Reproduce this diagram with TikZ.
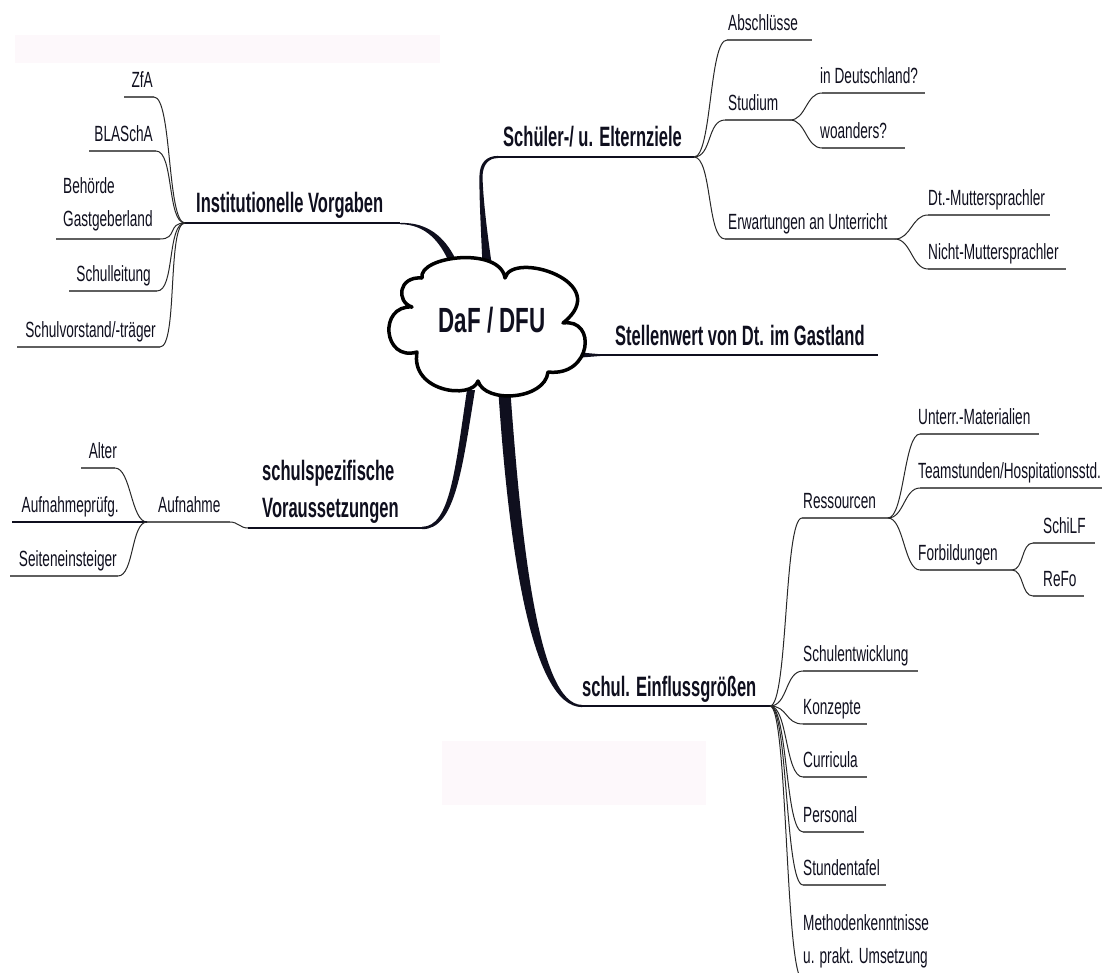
\documentclass[tikz,border=0pt]{standalone}
\usepackage{fontspec}
\setmainfont{Liberation Sans}[FakeStretch=0.62]
\newfontfamily\bigfont{Liberation Sans}[FakeStretch=0.59]
\newfontfamily\cloudfont{Liberation Sans}[FakeStretch=0.64]
\definecolor{ink}{RGB}{15,15,30}
\definecolor{ulc}{RGB}{95,95,95}
\definecolor{cvc}{RGB}{40,40,40}
\definecolor{faint}{RGB}{253,248,251}
\begin{document}
\begin{tikzpicture}[x=1pt,y=-1pt,
  txt/.style={font=\fontsize{22}{26}\selectfont, inner sep=0pt, text=ink},
  bigtxt/.style={font=\bigfont\bfseries\fontsize{28}{33}\selectfont, inner sep=0pt, text=ink},
  cloudtxt/.style={font=\cloudfont\bfseries\fontsize{35}{40}\selectfont, inner sep=0pt, text=ink},
  uline/.style={draw=ulc, line width=1.6pt},
  twig/.style={draw=cvc, line width=1pt},
  mline/.style={draw=ink, line width=2.2pt},
  rc/.style={out=0,in=180,distance=#1},
  lc/.style={out=180,in=0,distance=#1},
]
\useasboundingbox (0,0) rectangle (1102,972);
\clip (0,0) rectangle (1102,972);
\fill[white] (0,0) rectangle (1102,972);
\fill[faint] (15,35) rectangle (440,63);
\fill[faint] (442,741) rectangle (706,805);

% ---------- hubs and main coordinates
\coordinate (h1) at (185,223);
\coordinate (iE) at (400,223);
\coordinate (sC) at (497,157);
\coordinate (h2) at (694,157);
\coordinate (stA) at (582,355);
\coordinate (stB) at (878,355);
\coordinate (h4) at (248,528);
\coordinate (ssE) at (422,528);
\coordinate (eA) at (580,706);
\coordinate (h5) at (770,706);

% ---------- tapered trunks
\fill[ink] (iE) .. controls (428,221.8) and (445,238) .. (455,258) -- (449,262) .. controls (440,242) and (426,224.3) .. (400,224.2) -- cycle;
\fill[ink] (482.5,266) .. controls (481,230) and (479,195) .. (479.5,175) .. controls (480,163) and (486,156) .. (498,155.9) -- (498,158.1) .. controls (489,158) and (483,164) .. (482.5,176) .. controls (483,198) and (487,232) .. (492,266) -- cycle;
\fill[ink] (498,386) .. controls (508,540) and (530,707.1) .. (582,707.1) -- (582,704.9) .. controls (538,704.9) and (521,540) .. (510,386) -- cycle;
\fill[ink] (422,529.2) .. controls (455,529.5) and (462,470) .. (475,390) -- (467,390) .. controls (455,470) and (450,526.8) .. (422,526.8) -- cycle;
\fill[ink] (575,352) -- (600,354.2) -- (600,356) -- (575,358) -- cycle;

% ---------- main underlines
\draw[mline] (h1) -- (iE);
\draw[mline] (sC) -- (h2);
\draw[mline] (stA) -- (stB);
\draw[mline] (h4) -- (ssE);
\draw[mline] (eA) -- (h5);

% ---------- cloud
\filldraw[fill=white, draw=black, line width=3.5pt, line join=round]
  (422,278) .. controls (418,256) and (500,246) .. (505,278)
  .. controls (512,250) and (615,282) .. (563,323)
  .. controls (597,318) and (592,377) .. (548,372)
  .. controls (545,400) and (485,404) .. (478,381)
  .. controls (472,400) and (410,392) .. (417,352)
  .. controls (383,362) and (378,305) .. (412,307)
  .. controls (396,302) and (398,276) .. (422,278) -- cycle;
\node[cloudtxt] (daf) at (492,320) {DaF / DFU};

% ---------- main labels
\node[bigtxt, anchor=base west] (inst) at (196,212) {Institutionelle Vorgaben};
\node[bigtxt, anchor=base west] (schuel) at (503,146) {Schüler-/ u. Elternziele};
\node[bigtxt, anchor=base west] (stell) at (615,345) {Stellenwert von Dt. im Gastland};
\node[bigtxt, anchor=base west] (spezA) at (262,480) {schulspezifische};
\node[bigtxt, anchor=base west] (spezB) at (262,517) {Voraussetzungen};
\node[bigtxt, anchor=base west] (einfl) at (582,696) {schul. Einflussgrößen};

% ---------- Institutionelle Vorgaben
\coordinate (zfaR) at (154,97);  \coordinate (zfaL) at (124,97);
\coordinate (blaR) at (156,151); \coordinate (blaL) at (89,151);
\coordinate (behR) at (160,239); \coordinate (behL) at (56,239);
\coordinate (slR) at (157,291);  \coordinate (slL) at (69,291);
\coordinate (svR) at (160,347);  \coordinate (svL) at (17,347);
\foreach \b in {zfa,bla,beh,sl,sv}{
  \draw[twig] (h1) to[lc=18pt] (\b R);
  \draw[uline] (\b R) -- (\b L);
}
\node[txt, anchor=base east] (zfa) at (153,87) {ZfA};
\node[txt, anchor=base east] (bla) at (153,141) {BLASchA};
\node[txt, anchor=base west] (behA) at (63,193) {Behörde};
\node[txt, anchor=base west] (behB) at (63,226) {Gastgeberland};
\node[txt, anchor=base east] (sl) at (151,281) {Schulleitung};
\node[txt, anchor=base east] (sv) at (156,337) {Schulvorstand/-träger};

% ---------- Schüler-/ u. Elternziele
\coordinate (abL) at (727,40);  \coordinate (abR) at (812,40);
\coordinate (stuL) at (725,120); \coordinate (sh) at (790,120);
\coordinate (erwL) at (725,239); \coordinate (eh) at (895,239);
\coordinate (deL) at (822,93);  \coordinate (deR) at (925,93);
\coordinate (woL) at (822,148); \coordinate (woR) at (905,148);
\coordinate (dtL) at (928,215); \coordinate (dtR) at (1050,215);
\coordinate (niL) at (928,269); \coordinate (niR) at (1066,269);
\draw[twig] (h2) to[rc=18pt] (abL);  \draw[uline] (abL) -- (abR);
\draw[twig] (h2) to[rc=18pt] (stuL); \draw[uline] (stuL) -- (sh);
\draw[twig] (h2) to[rc=18pt] (erwL); \draw[uline] (erwL) -- (eh);
\draw[twig] (sh) to[rc=16pt] (deL);  \draw[uline] (deL) -- (deR);
\draw[twig] (sh) to[rc=16pt] (woL);  \draw[uline] (woL) -- (woR);
\draw[twig] (eh) to[rc=16pt] (dtL);  \draw[uline] (dtL) -- (dtR);
\draw[twig] (eh) to[rc=16pt] (niL);  \draw[uline] (niL) -- (niR);
\node[txt, anchor=base west] (absch) at (728,30) {Abschlüsse};
\node[txt, anchor=base west] (stud) at (728,110) {Studium};
\node[txt, anchor=base west] (erw) at (728,229) {Erwartungen an Unterricht};
\node[txt, anchor=base west] (inde) at (820,83) {in Deutschland?};
\node[txt, anchor=base west] (woan) at (820,138) {woanders?};
\node[txt, anchor=base west] (dtm) at (928,205) {Dt.-Muttersprachler};
\node[txt, anchor=base west] (nim) at (928,259) {Nicht-Muttersprachler};

% ---------- schulspezifische Voraussetzungen
\coordinate (aR) at (230,522); \coordinate (ah) at (147,522);
\coordinate (alR) at (115,468); \coordinate (alL) at (81,468);
\coordinate (apL) at (12,522);
\coordinate (seR) at (118,576); \coordinate (seL) at (10,576);
\draw[twig] (h4) to[lc=8pt] (aR);
\draw[uline] (aR) -- (ah);
\draw[twig] (ah) to[lc=16pt] (alR); \draw[uline] (alR) -- (alL);
\draw[draw=ink, line width=1.8pt] (ah) -- (apL);
\draw[twig] (ah) to[lc=16pt] (seR); \draw[uline] (seR) -- (seL);
\node[txt, anchor=base west] (aufn) at (158,512) {Aufnahme};
\node[txt, anchor=base east] (alter) at (117,458) {Alter};
\node[txt, anchor=base east] (aufp) at (119,512) {Aufnahmeprüfg.};
\node[txt, anchor=base east] (seit) at (117,566) {Seiteneinsteiger};

% ---------- schul. Einflussgrößen
\coordinate (reL) at (802,518); \coordinate (rh) at (888,518);
\coordinate (umL) at (920,434); \coordinate (umR) at (1039,434);
\coordinate (teL) at (920,488); \coordinate (teR) at (1110,488);
\coordinate (foL) at (920,570); \coordinate (fh) at (1012,570);
\coordinate (scL) at (1033,543); \coordinate (scR) at (1095,543);
\coordinate (rfL) at (1033,596); \coordinate (rfR) at (1084,596);
\coordinate (swL) at (803,671); \coordinate (swR) at (918,671);
\coordinate (koL) at (803,724); \coordinate (koR) at (867,724);
\coordinate (cuL) at (803,777); \coordinate (cuR) at (867,777);
\coordinate (peL) at (803,832); \coordinate (peR) at (864,832);
\coordinate (sfL) at (803,885); \coordinate (sfR) at (886,885);
\coordinate (meL) at (803,980); \coordinate (meR) at (900,980);
\draw[twig] (h5) to[rc=18pt] (reL); \draw[uline] (reL) -- (rh);
\draw[twig] (rh) to[rc=16pt] (umL); \draw[uline] (umL) -- (umR);
\draw[twig] (rh) to[rc=16pt] (teL); \draw[uline] (teL) -- (teR);
\draw[twig] (rh) to[rc=16pt] (foL); \draw[uline] (foL) -- (fh);
\draw[twig] (fh) to[rc=12pt] (scL); \draw[uline] (scL) -- (scR);
\draw[twig] (fh) to[rc=12pt] (rfL); \draw[uline] (rfL) -- (rfR);
\foreach \b in {sw,ko,cu,pe,sf,me}{
  \draw[twig] (h5) to[rc=18pt] (\b L);
  \draw[uline] (\b L) -- (\b R);
}
\node[txt, anchor=base west] (ress) at (803,508) {Ressourcen};
\node[txt, anchor=base west] (unt) at (918,424) {Unterr.-Materialien};
\node[txt, anchor=base west] (team) at (918,478) {Teamstunden/Hospitationsstd.};
\node[txt, anchor=base west] (forb) at (918,560) {Forbildungen};
\node[txt, anchor=base west] (schilf) at (1043,533) {SchiLF};
\node[txt, anchor=base west] (refo) at (1043,586) {ReFo};
\node[txt, anchor=base west] (sent) at (803,661) {Schulentwicklung};
\node[txt, anchor=base west] (konz) at (803,714) {Konzepte};
\node[txt, anchor=base west] (curr) at (803,767) {Curricula};
\node[txt, anchor=base west] (pers) at (803,822) {Personal};
\node[txt, anchor=base west] (stdt) at (803,875) {Stundentafel};
\node[txt, anchor=base west] (methA) at (803,930) {Methodenkenntnisse};
\node[txt, anchor=base west] (methB) at (803,963) {u. prakt. Umsetzung};
\end{tikzpicture}
\end{document}
